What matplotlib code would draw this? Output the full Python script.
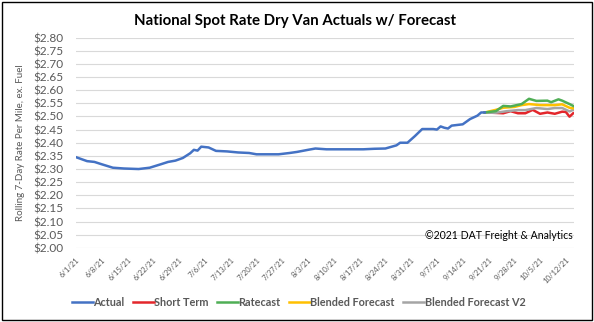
import matplotlib
matplotlib.use("Agg")
import matplotlib.pyplot as plt
import pandas as pd
from matplotlib.patches import Rectangle

plt.rcParams['font.family'] = ['Lato', 'DejaVu Sans']

# dane
actual_dates = ["2021-06-01", "2021-06-04", "2021-06-06", "2021-06-08", "2021-06-11", "2021-06-14",
                "2021-06-18", "2021-06-21", "2021-06-24", "2021-06-26", "2021-06-28", "2021-06-30",
                "2021-07-02", "2021-07-03", "2021-07-04", "2021-07-05", "2021-07-07", "2021-07-09",
                "2021-07-12", "2021-07-15", "2021-07-18", "2021-07-20", "2021-07-26", "2021-07-29",
                "2021-07-31", "2021-08-03", "2021-08-05", "2021-08-08", "2021-08-12", "2021-08-18",
                "2021-08-21", "2021-08-24", "2021-08-27", "2021-08-28", "2021-08-30", "2021-09-01",
                "2021-09-03", "2021-09-06", "2021-09-07", "2021-09-08", "2021-09-09", "2021-09-10",
                "2021-09-11", "2021-09-14", "2021-09-16", "2021-09-18", "2021-09-19", "2021-09-20"]
actual = [2.345, 2.330, 2.327, 2.318, 2.305, 2.302,
          2.300, 2.305, 2.318, 2.327, 2.332, 2.342,
          2.360, 2.373, 2.370, 2.385, 2.382, 2.369,
          2.367, 2.363, 2.361, 2.356, 2.356, 2.361,
          2.365, 2.373, 2.378, 2.375, 2.375, 2.375,
          2.377, 2.378, 2.390, 2.400, 2.400, 2.425,
          2.452, 2.452, 2.450, 2.462, 2.457, 2.454,
          2.465, 2.470, 2.490, 2.503, 2.515, 2.515]

short_dates = ["2021-09-20", "2021-09-22", "2021-09-25", "2021-09-27", "2021-09-29", "2021-10-01",
               "2021-10-03", "2021-10-05", "2021-10-07", "2021-10-09", "2021-10-11", "2021-10-12",
               "2021-10-13", "2021-10-14"]
short_term = [2.515, 2.514, 2.512, 2.520, 2.512, 2.512, 2.525, 2.510, 2.515, 2.510, 2.518, 2.517,
              2.499, 2.512]

rate_dates = ["2021-09-20", "2021-09-23", "2021-09-25", "2021-09-27", "2021-09-30", "2021-10-02",
              "2021-10-04", "2021-10-07", "2021-10-08", "2021-10-10", "2021-10-11", "2021-10-13",
              "2021-10-14"]
ratecast = [2.515, 2.520, 2.540, 2.538, 2.547, 2.567, 2.559, 2.560, 2.554, 2.565, 2.560, 2.547, 2.540]

blend_dates = ["2021-09-20", "2021-09-23", "2021-09-25", "2021-09-28", "2021-09-30", "2021-10-02",
               "2021-10-05", "2021-10-09", "2021-10-11", "2021-10-13", "2021-10-14"]
blended = [2.515, 2.525, 2.533, 2.536, 2.543, 2.547, 2.543, 2.543, 2.546, 2.533, 2.531]

v2_dates = ["2021-09-20", "2021-09-23", "2021-09-26", "2021-09-29", "2021-10-01", "2021-10-04",
            "2021-10-07", "2021-10-09", "2021-10-11", "2021-10-13", "2021-10-14"]
blended_v2 = [2.514, 2.514, 2.520, 2.524, 2.524, 2.532, 2.528, 2.532, 2.532, 2.519, 2.525]

tick_dates = pd.date_range("2021-06-01", "2021-10-12", freq="7D")
tick_labels = ["6/1/21", "6/8/21", "6/15/21", "6/22/21", "6/29/21", "7/6/21", "7/13/21", "7/20/21",
               "7/27/21", "8/3/21", "8/10/21", "8/17/21", "8/24/21", "8/31/21", "9/7/21", "9/14/21",
               "9/21/21", "9/28/21", "10/5/21", "10/12/21"]
y_ticks = [2.00 + 0.05 * i for i in range(17)]

fig = plt.figure(figsize=(5.94, 3.22), dpi=100)
ax = fig.add_axes([0.128, 0.230, 0.838, 0.6535])

ax.plot(pd.to_datetime(short_dates), short_term, color="#E3262B", lw=1.8, label="Short Term")
ax.plot(pd.to_datetime(v2_dates), blended_v2, color="#A5A5A5", lw=1.8, label="Blended Forecast V2")
ax.plot(pd.to_datetime(blend_dates), blended, color="#FFC000", lw=1.8, label="Blended Forecast")
ax.plot(pd.to_datetime(rate_dates), ratecast, color="#4FAE55", lw=1.8, label="Ratecast")
ax.plot(pd.to_datetime(actual_dates), actual, color="#4472C4", lw=1.8, label="Actual")

ax.set_ylim(2.0, 2.8)
ax.set_yticks(y_ticks)
ax.set_yticklabels(["${:.2f}".format(v) for v in y_ticks], fontsize=8.5, color="#595959")
ax.set_xlim(pd.Timestamp("2021-06-01"), pd.Timestamp("2021-10-14 04:00"))
ax.set_xticks(tick_dates)
ax.set_xticklabels(tick_labels, rotation=45, ha="right", va="top", rotation_mode="anchor",
                   fontsize=5.5, color="#595959")
ax.tick_params(length=0)
ax.tick_params(axis="y", pad=9)
ax.tick_params(axis="x", pad=6)
ax.grid(axis="y", color="#D9D9D9", lw=0.8)
ax.set_axisbelow(True)
for s in ax.spines.values():
    s.set_visible(False)

ax.set_ylabel("Rolling 7-Day Rate Per Mile, ex. Fuel", fontsize=7, color="#595959", labelpad=6)

fig.text(0.497, 0.935, "National Spot Rate Dry Van Actuals w/ Forecast", ha="center", va="center",
         fontsize=10.8, fontweight="bold", color="black")
ax.text(0.997, 0.035, "\u00a92021 DAT Freight & Analytics", transform=ax.transAxes,
        ha="right", va="bottom", fontsize=7.6, color="black")

handles, labels = ax.get_legend_handles_labels()
order = ["Actual", "Short Term", "Ratecast", "Blended Forecast", "Blended Forecast V2"]
hmap = dict(zip(labels, handles))
leg = fig.legend([hmap[k] for k in order], order, loc="center", bbox_to_anchor=(0.503, 0.06),
                 ncol=5, frameon=False, handlelength=1.9, handletextpad=0.05, columnspacing=0.8,
                 prop={"size": 7.8, "weight": "bold"})
for t in leg.get_texts():
    t.set_color("#595959")

# ramka dookoła
fig.patches.append(Rectangle((0.004, 0.006), 0.992, 0.988, transform=fig.transFigure,
                             fill=False, edgecolor="black", lw=1))

fig.savefig("out.png", dpi=100)
